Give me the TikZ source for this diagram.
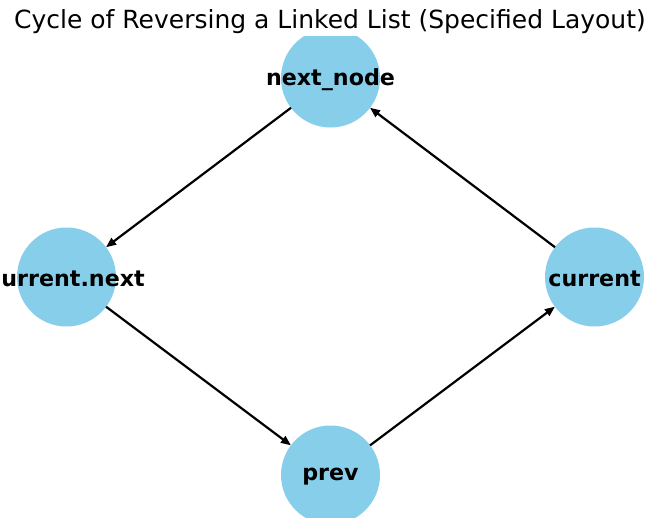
\documentclass[tikz,border=0pt]{standalone}
\usepackage{fontspec}
\setmainfont{DejaVu Sans}
\usetikzlibrary{arrows.meta}
\definecolor{skyblue}{HTML}{87CEEB}
\tikzset{
  vnode/.style={circle, fill=skyblue, minimum size=99pt, inner sep=0pt, outer sep=0pt},
  vlabel/.style={font=\fontsize{22.2}{24}\selectfont\bfseries, text=black},
  edgearrow/.style={line width=2.2pt, -{Triangle[length=10pt,width=8pt]}, black},
}
\begin{document}
\begin{tikzpicture}[x=1pt,y=-1pt]
\useasboundingbox (0,0) rectangle (660,527);
\fill[white] (0,0) rectangle (660,527);
\node[font=\fontsize{25}{28}\selectfont, anchor=base] (title) at (330,29) {Cycle of Reversing a Linked List (Specified Layout)};
\begin{scope}
\clip (0,37) rectangle (660,517);
\node[vnode] (nn) at (330.5,78) {};
\node[vnode] (cn) at (66.5,277) {};
\node[vnode] (cu) at (594.5,277) {};
\node[vnode] (pr) at (330.5,475) {};
\node[vlabel] (nnl) at ([yshift=-1.5pt]nn.center) {next\_node};
\node[vlabel] (cnl) at ([yshift=-1.5pt]cn.center) {current.next};
\node[vlabel] (cul) at ([yshift=-1.5pt]cu.center) {current};
\node[vlabel] (prl) at ([yshift=-1.5pt]pr.center) {prev};
\end{scope}
\draw[edgearrow] (nn) -- (cn);
\draw[edgearrow] (cn) -- (pr);
\draw[edgearrow] (pr) -- (cu);
\draw[edgearrow] (cu) -- (nn);
\end{tikzpicture}
\end{document}
